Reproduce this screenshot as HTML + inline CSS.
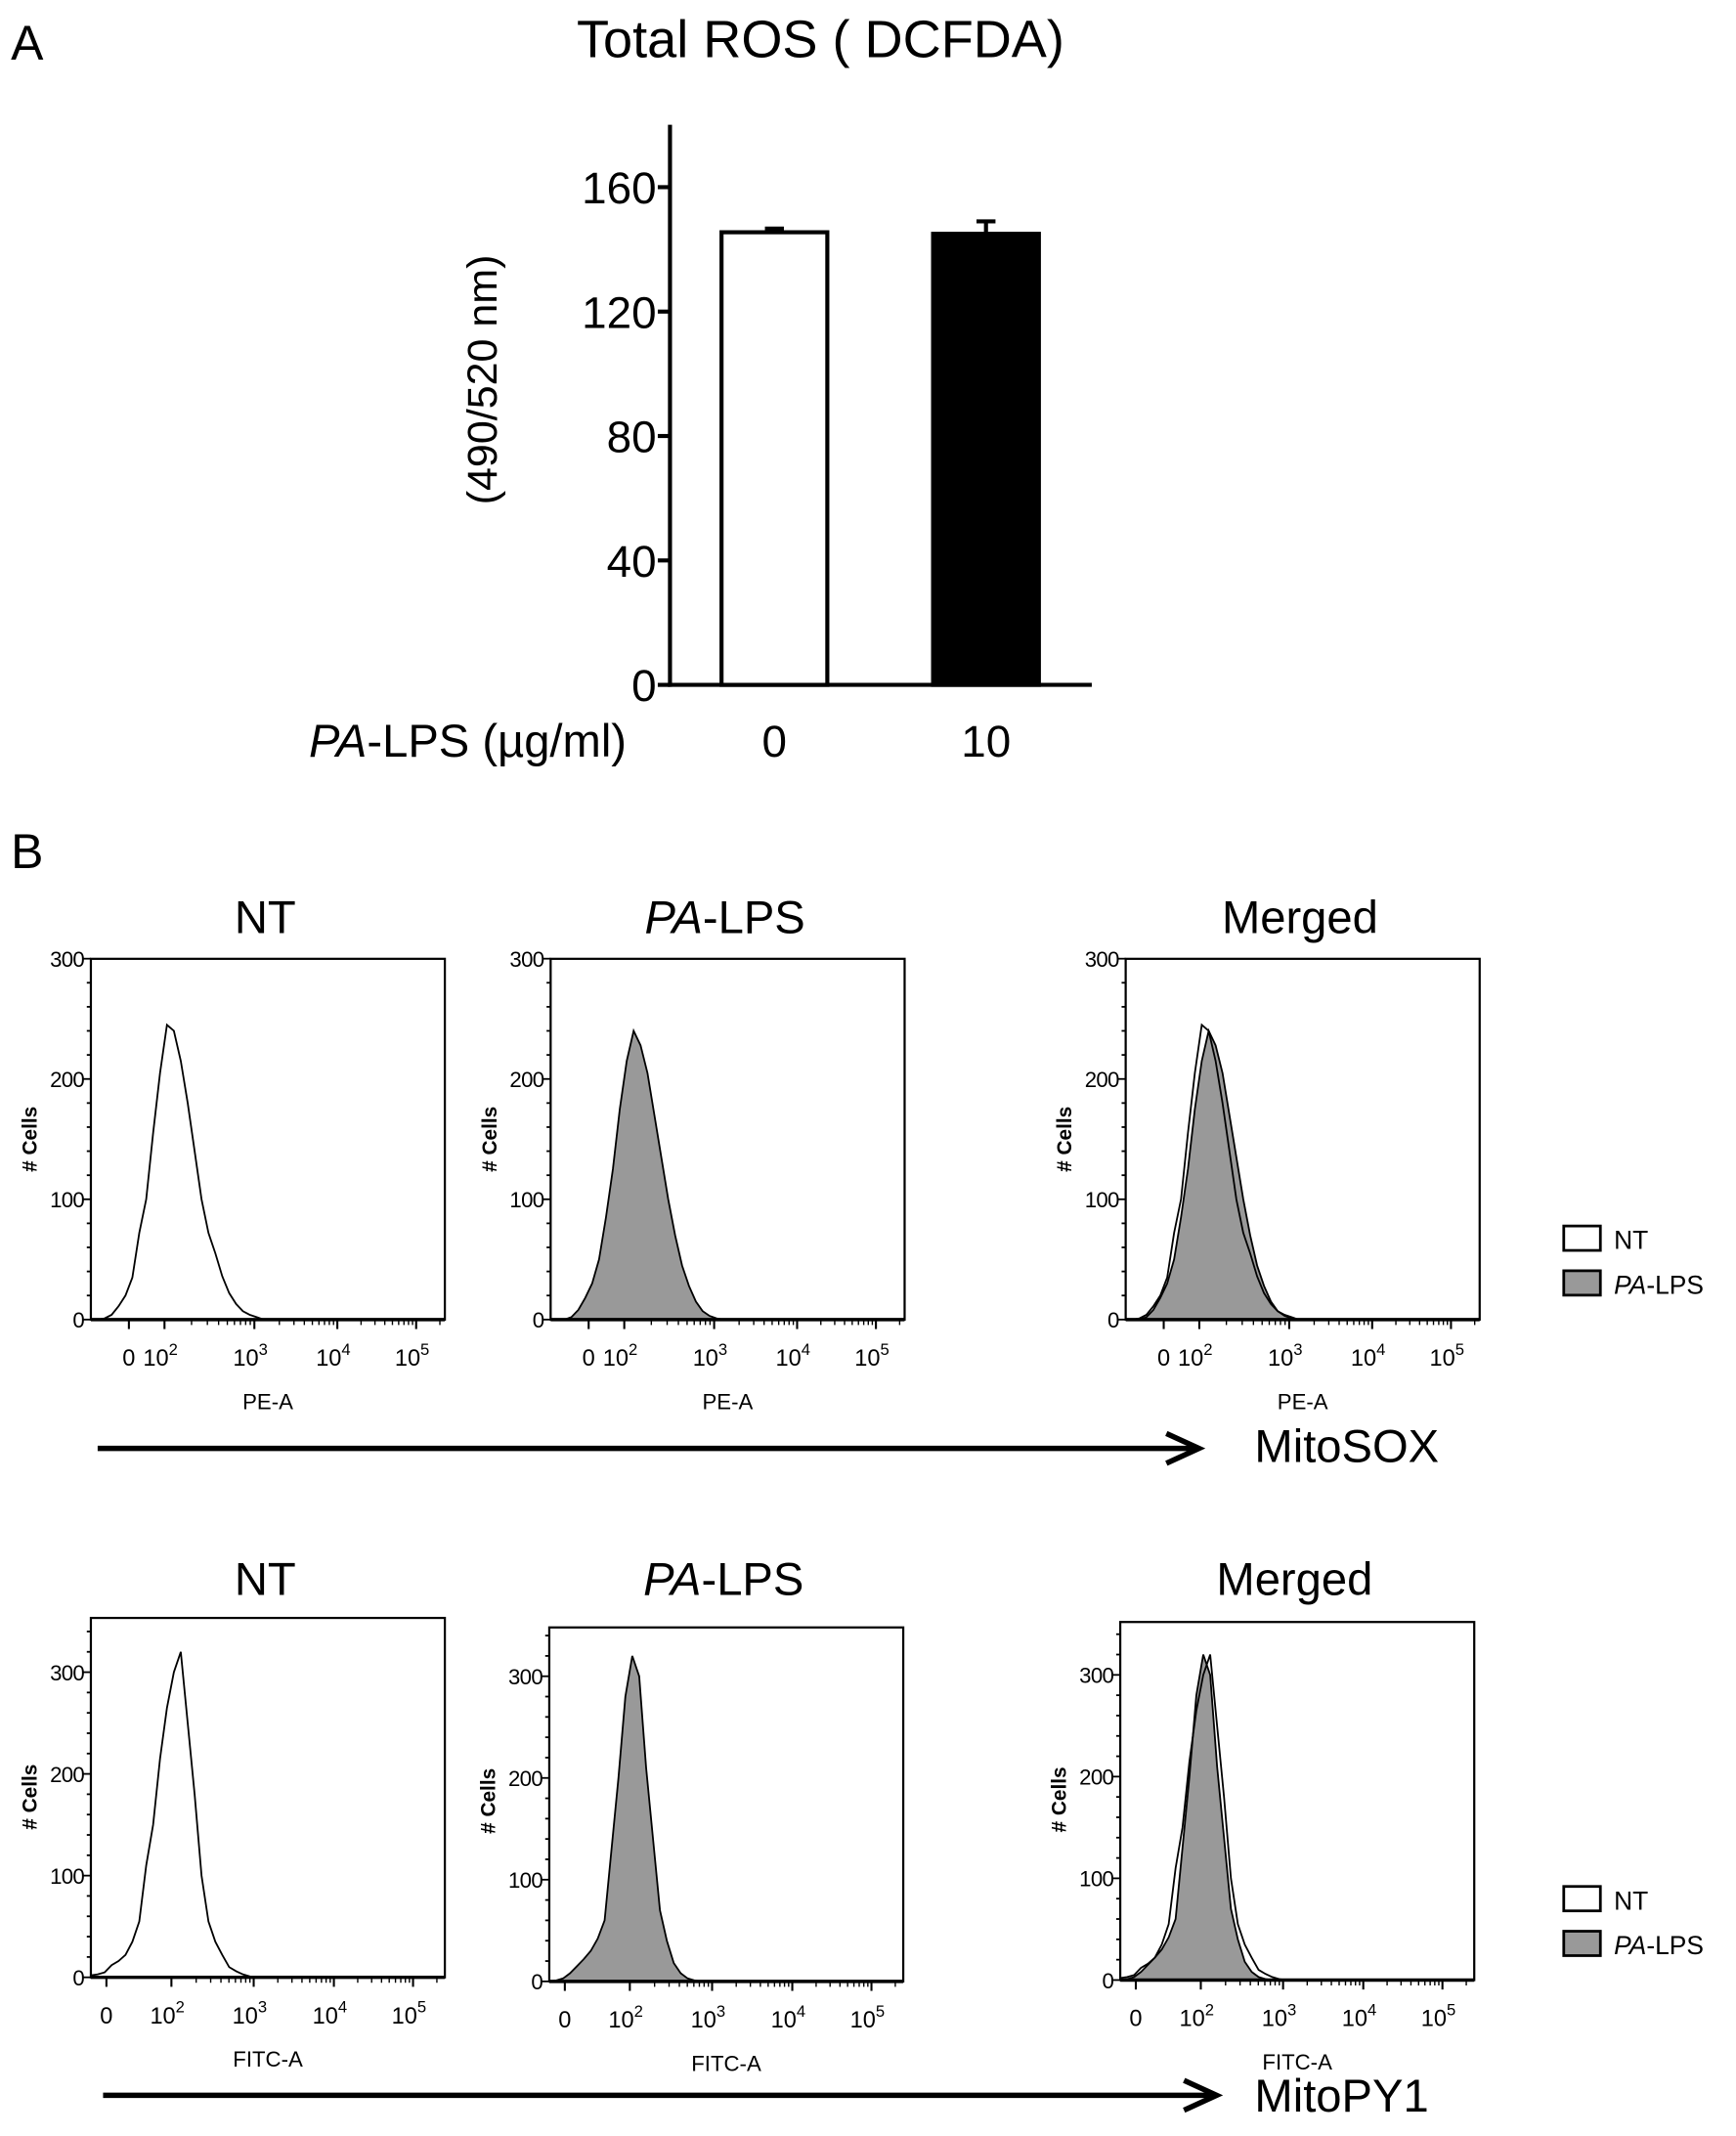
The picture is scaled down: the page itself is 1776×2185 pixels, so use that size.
<!DOCTYPE html>
<html><head><meta charset="utf-8">
<style>
html,body{margin:0;padding:0;background:#fff;}
svg{display:block;font-family:"Liberation Sans",Arial,sans-serif;}
</style></head>
<body>
<svg id="fig" width="1776" height="2185" viewBox="0 0 1280 1575" preserveAspectRatio="none" xmlns="http://www.w3.org/2000/svg">
  <text x="8" y="44" font-size="36">A</text>
  <text x="605" y="42" font-size="39" text-anchor="middle">Total ROS ( DCFDA)</text>
  <text transform="translate(366,280) rotate(-90)" font-size="31" text-anchor="middle">(490/520 nm)</text>
  <text x="462" y="558" font-size="34" text-anchor="end"><tspan font-style="italic">PA</tspan>-LPS (µg/ml)</text>
  <g id="chartA"></g>
  <text x="8" y="640" font-size="36">B</text>
  <g id="flow"></g>
</svg>
<script>
// ---------- Panel A data ----------
const categories = ["0", "10"];
const barValues = [145.5, 145];
const barErrors = [1.2, 4];
const barFills = ["#fff", "#000"];
const yTicksA = [0, 40, 80, 120, 160];

// ---------- Panel B data (channel 0-1023, bins every 20 channels) ----------
const binStep = 20;
const mitosoxNT = [0,0,1,4,11,20,35,72,100,155,205,245,240,215,180,140,100,72,55,36,22,13,7,4,2,0];
const mitosoxPA = [0,0,0,2,8,18,30,50,85,125,175,215,240,228,205,170,135,100,70,45,28,15,7,3,1,0];
const mitopyNT = [2,3,5,12,16,22,35,55,110,150,215,265,300,320,250,180,100,55,35,22,10,6,3,1,0,0];
const mitopyPA = [0,1,3,8,15,22,30,42,60,130,200,280,320,300,210,140,70,40,18,8,3,1,0,0,0,0];
const xTickLabels = ["0", "2", "3", "4", "5"];
const xTickChRow1 = [110, 213, 473, 713, 941];
const xTickChRow2 = [45, 233, 471, 703, 932];
const yTicksB = [0, 100, 200, 300];

const NS = "http://www.w3.org/2000/svg";
function mk(parent, tag, attrs, txt) {
  const e = document.createElementNS(NS, tag);
  for (const k in attrs) e.setAttribute(k, attrs[k]);
  if (txt !== undefined) e.textContent = txt;
  parent.appendChild(e);
  return e;
}

// ---------- Chart A ----------
(function () {
  const g = document.getElementById("chartA");
  const x0 = 494, y0 = 505, yTop = 92, xEnd = 805;
  const yS = v => y0 - v * (91.75 / 40);
  const centers = [571, 727], bw = 78;
  for (let i = 0; i < categories.length; i++) {
    const cx = centers[i];
    const eb = mk(g, "line", {x1: cx, x2: cx, y1: yS(barValues[i]), y2: yS(barValues[i] + barErrors[i]), stroke: "#000", "stroke-width": 3});
    
    
    const cap = mk(g, "line", {x1: cx - 7, x2: cx + 7, y1: yS(barValues[i] + barErrors[i]), y2: yS(barValues[i] + barErrors[i]), stroke: "#000", "stroke-width": 3});
    
    
    const r = mk(g, "rect", {x: cx - bw / 2, y: yS(barValues[i]), width: bw, height: y0 - yS(barValues[i]), fill: barFills[i], stroke: "#000", "stroke-width": 3});
    
    
    const t = mk(g, "text", {x: cx, y: 558, "font-size": 33, "text-anchor": "middle"}, categories[i]);
    
    
  }
  const ya = mk(g, "line", {x1: x0, x2: x0, y1: yTop, y2: y0 + 1.5, stroke: "#000", "stroke-width": 3});
  
  
  const xa = mk(g, "line", {x1: x0 - 1.5, x2: xEnd, y1: y0, y2: y0, stroke: "#000", "stroke-width": 3});
  
  
  yTicksA.forEach(v => {
    const tk = mk(g, "line", {x1: x0 - 9, x2: x0, y1: yS(v), y2: yS(v), stroke: "#000", "stroke-width": 3});
    
    
    const tl = mk(g, "text", {x: x0 - 10, y: yS(v) + 12, "font-size": 33, "text-anchor": "end"}, String(v));
    
    
  });
})();

// ---------- Panel B ----------
const F = document.getElementById("flow");
function histPanel(px, top, w, zeroY, per100, ticksCh, xTitle, series, titleTxt, titleItalic, titleY) {
  const g = mk(F, "g", {});
  
  
  const xS = ch => px + ch / 1024 * w;
  const yS = c => zeroY - c / 100 * per100;
  const tt = mk(g, "text", {x: px + w / 2 - 2, y: titleY, "font-size": 34, "text-anchor": "middle"});
  if (titleItalic) {
    mk(tt, "tspan", {"font-style": "italic"}, "PA");
    mk(tt, "tspan", {}, "-LPS");
  } else tt.textContent = titleTxt;
  
  
  series.forEach(s => {
    let d = "M" + xS(0) + "," + zeroY;
    s.data.forEach((c, i) => { d += " L" + xS(i * binStep).toFixed(1) + "," + yS(c).toFixed(1); });
    d += " L" + xS((s.data.length - 1) * binStep) + "," + zeroY + " Z";
    const p = mk(g, "path", {d: d, fill: s.fill, stroke: "#000", "stroke-width": 1.3, "fill-opacity": s.fill === "none" ? 0 : 1});
    
    
  });
  const fr = mk(g, "rect", {x: px, y: top, width: w, height: zeroY - top, fill: "none", stroke: "#000", "stroke-width": 1.6});
  
  
  const bl = mk(g, "line", {x1: px, x2: px + w, y1: zeroY, y2: zeroY, stroke: "#000", "stroke-width": 2.5});
  
  
  for (let v = 0; v * per100 / 100 <= zeroY - top + 0.5; v += 20) {
    const major = v % 100 === 0;
    const t = mk(g, "line", {x1: px - (major ? 6 : 3), x2: px, y1: yS(v), y2: yS(v), stroke: "#000", "stroke-width": 1.3});
    
    
  }
  yTicksB.forEach(v => {
    if (yS(v) < top - 2) return;
    const tl = mk(g, "text", {x: px - 5, y: yS(v) + 6, "font-size": 16, "text-anchor": "end", "letter-spacing": "-0.5"}, String(v));
    
    
  });
  const yl = mk(g, "text", {transform: "translate(" + (px - 40) + "," + (zeroY - 133) + ") rotate(-90)", "font-size": 15, "font-weight": "bold", "text-anchor": "middle"}, "# Cells");
  
  
  ticksCh.forEach((ch, i) => {
    const t = mk(g, "line", {x1: xS(ch), x2: xS(ch), y1: zeroY, y2: zeroY + 7, stroke: "#000", "stroke-width": 1.5});
    
    
    if (i >= 1) {
      const next = i < ticksCh.length - 1 ? ticksCh[i + 1] : ch + (ch - ticksCh[i - 1]);
      for (let k = 2; k <= 9; k++) {
        const mc = ch + (next - ch) * Math.log10(k);
        if (xS(mc) > px + w) break;
        const m = mk(g, "line", {x1: xS(mc), x2: xS(mc), y1: zeroY, y2: zeroY + 4, stroke: "#000", "stroke-width": 1});
        
        
      }
    }
    const tl = mk(g, "text", {x: xS(ch) + (i ? -3 : 0), y: zeroY + 34, "font-size": 17, "text-anchor": "middle"});
    if (i === 0) tl.textContent = "0";
    else { mk(tl, "tspan", {}, "10"); mk(tl, "tspan", {dy: -8, "font-size": 12}, xTickLabels[i]); }
    
    
  });
  const xt = mk(g, "text", {x: px + w / 2, y: zeroY + 66, "font-size": 16, "text-anchor": "middle"}, xTitle);
  
  
}

const W = 261;
histPanel(67, 707, W, 973, 88.7, xTickChRow1, "PE-A", [{data: mitosoxNT, fill: "none", name: "hist-nt"}], "NT", false, 688);
histPanel(406, 707, W, 973, 88.7, xTickChRow1, "PE-A", [{data: mitosoxPA, fill: "#999", name: "hist-pa-lps"}], "", true, 688);
histPanel(830, 707, W, 973, 88.7, xTickChRow1, "PE-A", [{data: mitosoxPA, fill: "#999", name: "hist-pa-lps"}, {data: mitosoxNT, fill: "none", name: "hist-nt"}], "Merged", false, 688);
histPanel(67, 1193, W, 1458, 75, xTickChRow2, "FITC-A", [{data: mitopyNT, fill: "none", name: "hist-nt"}], "NT", false, 1176);
histPanel(405, 1200, W, 1461, 75, xTickChRow2, "FITC-A", [{data: mitopyPA, fill: "#999", name: "hist-pa-lps"}], "", true, 1176);
histPanel(826, 1196, W, 1460, 75, xTickChRow2, "FITC-A", [{data: mitopyPA, fill: "#999", name: "hist-pa-lps"}, {data: mitopyNT, fill: "none", name: "hist-nt"}], "Merged", false, 1176);

function arrow(x1, x2, y, label, ly) {
  const l = mk(F, "line", {x1: x1, x2: x2, y1: y, y2: y, stroke: "#000", "stroke-width": 4});
  
  
  const h = mk(F, "polyline", {points: (x2 - 24) + "," + (y - 11) + " " + x2 + "," + y + " " + (x2 - 24) + "," + (y + 11), fill: "none", stroke: "#000", "stroke-width": 4});
  
  
  const t = mk(F, "text", {x: 925, y: ly, "font-size": 34}, label);
  
  
}
arrow(72, 884, 1068, "MitoSOX", 1078);
arrow(76, 897, 1545, "MitoPY1", 1557);

function legend(y) {
  const b1 = mk(F, "rect", {x: 1153, y: y, width: 27, height: 18, fill: "#fff", stroke: "#000", "stroke-width": 2});
  
  
  const t1 = mk(F, "text", {x: 1190, y: y + 17, "font-size": 19}, "NT");
  
  
  const b2 = mk(F, "rect", {x: 1153, y: y + 33, width: 27, height: 18, fill: "#999", stroke: "#000", "stroke-width": 2});
  
  
  const t2 = mk(F, "text", {x: 1190, y: y + 50, "font-size": 19});
  mk(t2, "tspan", {"font-style": "italic"}, "PA");
  mk(t2, "tspan", {}, "-LPS");
  
  
}
legend(904);
legend(1391);
</script>
</body></html>
